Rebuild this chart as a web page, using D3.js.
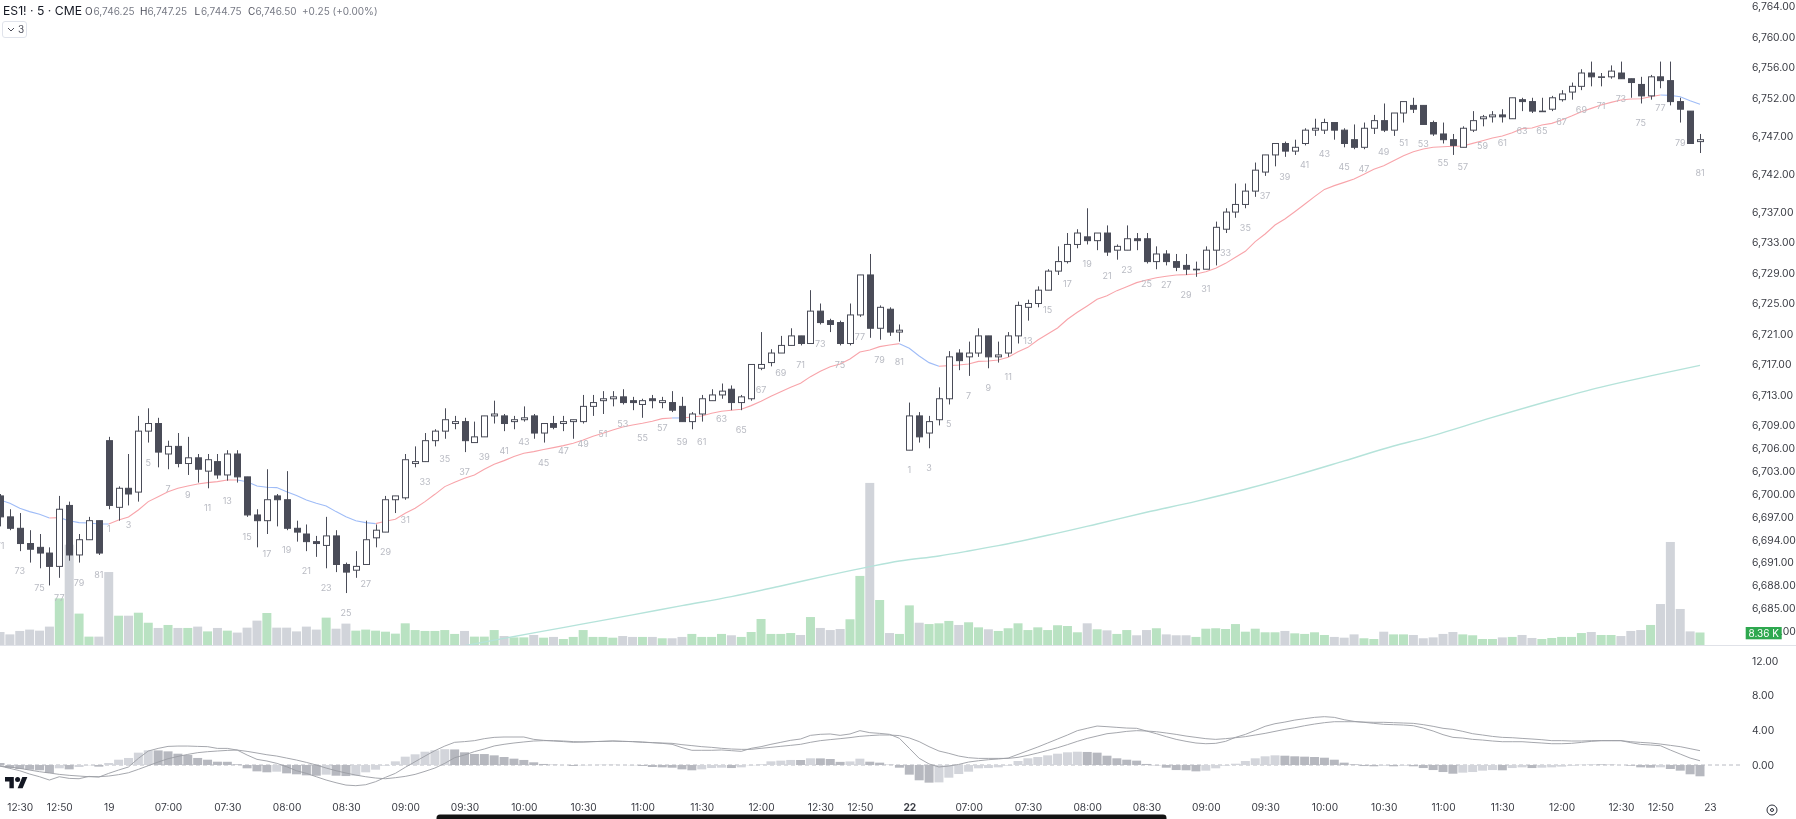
<!DOCTYPE html>
<html>
<head>
<meta charset="utf-8">
<script src="https://cdn.jsdelivr.net/npm/d3@7"></script>
<style>
html,body{margin:0;padding:0;background:#fff;overflow:hidden}
svg{display:block;font-family:Inter,"Liberation Sans",sans-serif;filter:blur(.35px)}
</style>
</head>
<body>
<svg id="chart" width="1796" height="819"></svg>
<script>
const opens=[
6699.75,6697,6695.5,6693.5,6693,6692.25,6690.5,6698.5,6692,6694,
6696.5,6707,6698.25,6700.75,6700.25,6708.25,6709.25,6705.25,6706.25,6704,
6704.75,6703,6704.25,6702.5,6705.25,6702.25,6697.25,6696.5,6699.75,6699.25,
6695.5,6694.75,6693.75,6693.25,6694.5,6690.75,6690,6690.75,6694.25,6695,
6699.25,6699.5,6704,6704.25,6707,6708.25,6709.25,6709.5,6706.75,6707.5,
6710.25,6710.25,6709.5,6709.75,6710.25,6708,6709.25,6709.25,6709.5,6709.5,
6711.5,6712.25,6712.5,6712.75,6712.25,6711.75,6712.5,6712,6712,6711.5,
6709.5,6710.5,6712.25,6713,6713.75,6712,6712.5,6716.5,6717.25,6718.5,
6719.5,6720.75,6719.75,6724,6722.75,6722.5,6719.75,6723.5,6728.75,6721.75,
6724.25,6721.25,6705.75,6710.25,6708,6709.75,6712.5,6718.5,6718,6718.5,
6720.75,6718,6718.5,6720.75,6724.5,6725,6726.75,6729.25,6730.5,6732.75,
6733.75,6733.25,6734.25,6732,6732,6733.5,6733.5,6730.5,6731.5,6730.5,
6730,6729.5,6729.5,6732,6734.75,6737,6738,6739.75,6742.25,6744.5,
6746,6745,6746,6747.75,6747.75,6748.75,6747.75,6746.5,6745.5,6748,
6749,6747.75,6750,6751,6751,6748.75,6747.25,6746.5,6745.5,6747.75,
6749.25,6749.5,6749.75,6749.25,6751.75,6751.5,6750.25,6750.5,6751.75,6752.75,
6753.5,6755.25,6754.75,6754.75,6755.25,6754.5,6753.75,6752.25,6754.75,6754.25,
6751.5,6750.25,6746.25];
const highs=[
6700,6698,6697.5,6695.25,6694.75,6693,6699.75,6699,6694.75,6697,
6696.5,6707.5,6701,6705.25,6710.25,6711.25,6710,6707,6708,6707.5,
6705.25,6705.25,6705.25,6705.75,6705.75,6702.25,6698,6703.25,6700,6703,
6696.5,6696,6694.5,6697,6695.25,6691,6692.5,6696.5,6696,6699.75,
6699.75,6705.25,6706.25,6708,6708.5,6711.25,6710.25,6710,6709.5,6710.25,
6712.25,6710.5,6710.25,6711.5,6710.5,6709.25,6710.25,6710.25,6709.75,6713,
6713,6713.5,6713.5,6713.75,6712.75,6712.5,6713,6712.75,6713.5,6712.75,
6710.75,6713,6713.75,6714.5,6714.25,6713,6717,6721.25,6719,6720.75,
6721.75,6720.75,6726.75,6725,6723,6722.75,6725,6728.75,6731.5,6724.75,
6724.5,6722.25,6712,6710.75,6710.25,6714,6718.75,6719,6720,6721.75,
6720.75,6720,6721.25,6725.25,6725.5,6727.25,6729.5,6732.5,6734.25,6734.75,
6737.5,6734.25,6735.25,6732.75,6735.25,6734.25,6734.25,6732.5,6732,6731.5,
6731.5,6730.5,6732.5,6735.75,6737.5,6740.75,6740.75,6743.5,6744.5,6746,
6746.25,6746.5,6748,6749.25,6749.25,6748.75,6748,6748.5,6748.75,6749.75,
6751.25,6750,6751.5,6752,6751,6749,6748.75,6747.25,6748.25,6750.25,
6749.75,6750.25,6750.5,6752,6752,6752,6752,6752.25,6753,6754,
6755.75,6756.75,6755.25,6756.25,6756.75,6754.5,6754.75,6755,6756.75,6756.75,
6752,6750.25,6747.25];
const lows=[
6695.75,6695.25,6692.5,6691,6690.25,6688,6689,6691.25,6691,6694,
6692,6698,6696.5,6698.5,6699,6706.75,6703.5,6703.25,6703.5,6702.5,
6701.5,6700.75,6702,6701.75,6701.5,6697,6693,6694.75,6695.75,6695.25,
6693.75,6692.5,6691.75,6690.25,6689.75,6687,6689,6690.75,6693,6695,
6697.5,6699.25,6703.5,6704.25,6706.25,6707.25,6708.5,6705.5,6706.75,6707.5,
6709.25,6708.25,6708.5,6709.5,6707.25,6706.75,6708.5,6708.25,6707.25,6709.25,
6710.25,6710.5,6711.5,6711.75,6711,6710,6711.25,6711.25,6710.75,6709.5,
6708.5,6709.5,6712.25,6712.5,6711,6711,6712.25,6716.25,6716.75,6718.5,
6719.5,6719.5,6719.75,6722.25,6721.25,6719.5,6719.5,6723.25,6720.5,6720.25,
6720.75,6720,6705.75,6706.75,6706,6709,6711.75,6716.25,6715.5,6718,
6716.5,6717.25,6718,6719.75,6722.75,6724.5,6726.75,6728.75,6730.25,6732.25,
6732.75,6732,6731.25,6730.75,6732,6732,6730.25,6729.5,6730,6729.25,
6728.75,6728.5,6729.5,6730,6734.25,6736.25,6737.5,6739,6741.75,6743,
6744.25,6744.5,6745.75,6747,6747.25,6746.5,6745.5,6745.25,6745.25,6747.25,
6747.5,6747,6748.75,6750,6748.5,6747,6746,6744.5,6745.5,6747.5,
6748.25,6748.75,6748.75,6749.25,6750.25,6750,6750.25,6750.25,6751.5,6751.75,
6753,6753.5,6753.5,6754.5,6754.5,6752,6751.25,6751.75,6753.25,6751,
6748.75,6746,6744.75];
const closes=[
6697,6695.5,6693.5,6692.75,6692.25,6690.5,6698,6692,6694,6696.5,
6692.25,6698.5,6700.75,6700,6708.25,6709.25,6705.5,6706.25,6704,6704.75,
6703.25,6704.5,6702.5,6705.25,6702.25,6697.25,6696.5,6699.25,6699.25,6695.5,
6695,6693.75,6693.5,6694.5,6690.75,6689.75,6690.5,6694,6695.25,6699.25,
6699.75,6704.5,6704.25,6707,6708.25,6709.75,6709.5,6707,6707.5,6710.25,
6710.5,6709.25,6709.75,6710,6708,6709.25,6708.75,6709.5,6709.75,6711.5,
6712,6712.5,6712.75,6712,6712,6712.25,6712.25,6712.25,6711,6709.5,
6710.5,6712.5,6713,6713.5,6712,6712.75,6717,6717,6718.5,6719.5,
6720.75,6719.75,6724,6722.5,6722.25,6719.75,6723.5,6728.75,6721.75,6724.5,
6721.25,6721.5,6710.25,6707.5,6709.5,6712.5,6718,6717.5,6718.5,6720.75,
6718,6718.25,6720.75,6724.75,6725,6726.75,6729.25,6730.5,6732.75,6734.25,
6733.25,6734.25,6731.75,6732.5,6733.5,6733.25,6730.5,6731.5,6730.5,6729.75,
6729.5,6729.5,6732,6735,6737,6738,6739.75,6742.5,6744.5,6746,
6745,6745.5,6747.75,6748,6748.75,6747.75,6746,6745.5,6748,6749,
6747.75,6750,6751.5,6750.5,6748.5,6747.25,6746.5,6745.75,6748,6749,
6749.5,6749.75,6749.5,6752,6751.5,6750.25,6750.25,6752,6752.5,6753.5,
6755.25,6754.75,6754.75,6755.5,6754.5,6754,6752.25,6754.75,6754.25,6751.5,
6750.5,6746,6746.5];
const volumesK=[
8.7,7.1,9.4,10.3,9.6,12.3,31.2,67.1,21,5.6,
5.6,48.8,19.6,19.6,21.6,14.9,11.4,13.4,11.4,11.4,
12.3,9.1,11.4,9.6,8.3,11.6,16.3,21.4,11.6,11.6,
9.1,12.3,10.3,18.3,10.9,14.3,9.6,10.3,9.6,8.9,
7.6,14.5,10,9.4,9.4,10,7.4,9.4,5.6,5.6,
10,6,5.1,5.1,6.7,4.9,5.4,4,5.4,10,
5.4,5.4,4.9,6,5.4,5.4,5.4,4.5,4.5,5.4,
7.4,5.4,5.4,7.4,6.5,5.4,8.7,17.4,7.4,7.4,
8,6.7,18.7,11.4,10,10.7,17.2,46.2,108.4,30.1,
8,7.4,26.5,14.9,14,14.5,16.1,13.4,15.2,11.8,
10.5,9.4,11.2,14.5,10,11.8,10,13.2,12.7,8.5,
14.5,10.5,9.8,7.4,10,6.5,10,11.2,7.1,6.5,
6.5,5.4,10.9,11.2,10.7,14,8.9,10.9,8.5,8.5,
9.4,7.8,7.4,8.5,6.7,5.4,4.9,7.1,4.5,4,
8.9,7.1,7.1,6.7,4.5,5.1,7.4,8.7,7.1,6.5,
4,4,5.1,5.4,6.7,4.7,4,4.7,5.4,5.4,
8,8.7,6.7,6.7,6,9.4,10,13.4,27.4,68.9,
24.1,9.1,8.36];
const ema20=[
6699.22,6698.78,6698.12,6697.69,6697.34,6696.85,6696.9,6696.5,6696.24,6696.2,
6696.07,6696.07,6696.59,6696.99,6697.9,6699,6699.65,6700.31,6700.75,6701.05,
6701.32,6701.49,6701.62,6701.84,6701.84,6701.62,6701.05,6700.88,6700.84,6700.31,
6699.79,6699.22,6698.78,6698.43,6697.69,6697.03,6696.5,6696.24,6696.11,6696.42,
6696.68,6697.47,6698.13,6699,6699.96,6700.97,6701.54,6702.06,6702.5,6703.24,
6703.9,6704.38,6704.91,6705.34,6705.56,6705.83,6706.09,6706.35,6706.66,6707.09,
6707.58,6707.97,6708.41,6708.8,6709.06,6709.28,6709.54,6709.89,6709.98,6709.98,
6710.11,6710.24,6710.59,6710.86,6710.99,6711.12,6711.6,6712.17,6712.82,6713.43,
6714,6714.53,6715.4,6716.1,6716.71,6717.06,6717.72,6718.64,6718.9,6719.34,
6719.56,6719.73,6719.12,6718.11,6717.24,6716.76,6716.85,6716.93,6717.06,6717.41,
6717.46,6717.59,6717.94,6718.68,6719.25,6720.21,6721,6721.79,6722.93,6723.85,
6724.68,6725.55,6726.03,6726.69,6727.21,6727.74,6728.09,6728.39,6728.57,6728.74,
6728.79,6728.87,6729.18,6729.62,6730.27,6731.06,6731.85,6733.12,6734.12,6735.3,
6736.09,6737.05,6738.02,6739.02,6739.98,6740.47,6740.9,6741.34,6741.95,6742.61,
6743.09,6743.75,6744.4,6744.93,6745.28,6745.5,6745.58,6745.63,6745.67,6746.02,
6746.37,6746.72,6746.98,6747.42,6747.95,6748.03,6748.43,6748.64,6749.08,6749.61,
6750.18,6750.61,6751.05,6751.4,6751.71,6751.84,6751.88,6752.14,6752.36,6752.32,
6752.14,6751.62,6751.14];
const emaBelowRanges=[[0,5],[6,11],[24,38],[68,69],[91,95],[168,172]];
const emaAboveRanges=[[5,6],[11,24],[38,68],[69,91],[95,168]];
const ema200Bars=[47,54,59,64,69,74,79,84,88,91,95,98,101,106,111,116,121,126,131,136,141,144,151,157,162,167,172];
const ema200=[6680.1,6681.77,6682.95,6684.13,6685.35,6686.53,6687.93,6689.38,6690.47,6691.2,6691.87,6692.52,6693.22,6694.58,6696.07,6697.6,6699.04,6700.62,6702.41,6704.34,6706.3,6707.3,6710.05,6712.3,6714.03,6715.5,6716.88];
const macdLine=[
-.12,-.39,-.66,-1.04,-1.35,-1.73,-1.35,-1.54,-1.58,-1.31,
-1.39,-.96,-.58,-.23,.76,1.61,1.91,2.14,2.18,2.18,
2.14,2.11,1.91,1.91,1.72,1.15,.65,.46,.19,-.2,
-.66,-.96,-1.35,-1.73,-2.04,-2.31,-2.38,-2.27,-1.92,-1.42,
-.96,-.27,.38,1.03,1.65,2.18,2.61,2.69,2.8,3.03,
3.18,3.22,3.22,3.22,2.95,2.84,2.76,2.69,2.61,2.65,
2.69,2.72,2.76,2.72,2.69,2.65,2.57,2.49,2.38,2,
1.69,1.69,1.69,1.73,1.65,1.57,1.92,2.11,2.38,2.61,
2.84,2.99,3.41,3.53,3.57,3.41,3.57,3.95,3.72,3.64,
3.53,3.07,1.92,.77,.12,-.23,-.12,.07,.34,.49,
.61,.69,.8,1.22,1.65,2.07,2.53,2.99,3.45,3.95,
4.22,4.48,4.41,4.33,4.25,4.22,3.91,3.6,3.26,2.95,
2.72,2.53,2.45,2.49,2.72,3.18,3.52,3.98,4.45,4.75,
4.94,5.17,5.33,5.48,5.56,5.48,5.21,5.02,4.91,4.79,
4.68,4.64,4.6,4.52,4.25,3.91,3.49,3.18,3.1,2.95,
2.87,2.76,2.68,2.68,2.68,2.6,2.53,2.45,2.45,2.49,
2.6,2.72,2.8,2.8,2.8,2.57,2.37,2.3,2.22,1.72,
1.26,.8,.49];
const signalLine=[
-.12,-.23,-.39,-.58,-.77,-.92,-1.08,-1.19,-1.27,-1.35,
-1.35,-1.27,-1.11,-.89,-.5,-.08,.34,.72,.99,1.22,
1.42,1.53,1.61,1.68,1.72,1.57,1.38,1.18,1.03,.8,
.57,.3,0,-.35,-.66,-.92,-1.16,-1.35,-1.5,-1.58,
-1.46,-1.31,-1.08,-.73,-.35,.19,.84,1.15,1.54,1.84,
2.19,2.38,2.53,2.65,2.76,2.8,2.8,2.76,2.69,2.65,
2.69,2.72,2.76,2.72,2.69,2.61,2.57,2.53,2.49,2.34,
2.23,2.11,2.03,1.92,1.84,1.8,1.8,1.92,2.03,2.15,
2.26,2.38,2.61,2.8,2.92,3.03,3.15,3.3,3.38,3.45,
3.45,3.38,3.11,2.69,2.11,1.61,1.34,1.03,.84,.76,
.76,.76,.76,.88,1.11,1.38,1.68,1.99,2.34,2.72,
3.06,3.33,3.6,3.72,3.87,3.95,3.91,3.83,3.68,3.52,
3.33,3.18,3.03,2.95,3.03,3.14,3.26,3.45,3.64,3.87,
4.1,4.29,4.52,4.71,4.87,4.98,4.98,4.98,4.94,4.91,
4.91,4.87,4.83,4.79,4.64,4.45,4.22,4.1,3.87,3.6,
3.45,3.29,3.18,3.14,3.06,2.99,2.91,2.8,2.8,2.76,
2.76,2.8,2.8,2.8,2.8,2.68,2.6,2.53,2.41,2.26,
2.11,1.88,1.65];
const macdHist=[
.23,-.35,-.46,-.54,-.61,-.92,-.38,-.5,-.23,-.04,
-.19,.23,.61,.81,1.42,1.69,1.68,1.57,1.3,1.15,
.81,.61,.38,.37,.08,-.38,-.73,-.84,-.77,-.96,
-1.07,-1.19,-1.23,-1.11,-1.23,-1.27,-1.23,-.84,-.54,-.08,
.42,.96,1.23,1.53,1.69,1.82,1.79,1.46,1.27,1.26,
1.11,.92,.73,.58,.31,.12,.04,0,-.11,-.04,
0,.04,.02,0,-.02,-.11,-.23,-.27,-.31,-.5,
-.61,-.5,-.35,-.31,-.35,-.27,-.04,.08,.42,.5,
.58,.575,.77,.76,.69,.36,.41,.73,.38,.27,
.04,-.31,-1.11,-1.76,-2.03,-2,-1.46,-1.04,-.77,-.38,
-.35,-.27,-.08,.46,.77,.92,1.11,1.3,1.46,1.53,
1.5,1.42,1.07,.77,.61,.5,.12,-.04,-.31,-.58,
-.61,-.73,-.65,-.38,-.08,.15,.46,.77,1,1.11,
1.07,1,.96,.92,.84,.61,.27,.08,-.12,-.15,
-.08,-.15,-.08,-.15,-.35,-.58,-.81,-1,-.88,-.81,
-.65,-.58,-.61,-.35,-.27,-.35,-.31,-.27,-.19,-.08,
.04,.08,.07,.04,0,-.08,-.27,-.31,-.27,-.46,
-.65,-1.07,-1.3];
const priceTicks=[6764,6760,6756,6752,6747,6742,6737,6733,6729,6725,6721,6717,6713,6709,6706,6703,6700,6697,6694,6691,6688,6685,6682];
const macdTicks=[12,8,4,0];
const timeTickBars=[2,6,11,17,23,29,35,41,47,53,59,65,71,77,83,87,92,98,104,110,116,122,128,134,140,146,152,158,164,168,173];
const timeTickLabels=["12:30","12:50","19","07:00","07:30","08:00","08:30","09:00","09:30","10:00","10:30","11:00","11:30","12:00","12:30","12:50","22","07:00","07:30","08:00","08:30","09:00","09:30","10:00","10:30","11:00","11:30","12:00","12:30","12:50","23"];
const sessionStarts=[[-71,0],[11,1],[92,1]];
const titleText="ES1! · 5 · CME";
const ohlc=[["O","6,746.25"],["H","6,747.25"],["L","6,744.75"],["C","6,746.50"]];
const changeText="+0.25 (+0.00%)";
const lastVolumeLabel="8.36 K";

[opens,highs,lows,closes,volumesK,ema20,macdLine,signalLine,macdHist].forEach((a,k)=>{
  if(a.length!==173) throw new Error("array "+k+" has "+a.length);
});

const W=1796,H=819,paneRight=1745,paneBottom=645;
const x=d3.scaleLinear().domain([0,172]).range([0,1700]);
const y=d3.scaleLinear().domain([6756,6685]).range([67.3,608.3]);
const yVol=d3.scaleLinear().domain([0,8.36]).range([645,632.5]);
const yMacd=d3.scaleLinear().domain([0,12]).range([765,660.7]);
const bars=d3.range(opens.length);
const svg=d3.select("#chart");

const C={dark:"#4a4c58",up:"#b9e2c2",down:"#d1d4da",pink:"#f8a4aa",blue:"#9fbcf7",teal:"#b5e3da",
 text:"#3a3c44",count:"#b9bbc3",histDark:"#b6b8bf",histLight:"#d3d5db",line:"#9b9da4"};

svg.append("defs").append("clipPath").attr("id","mainClip").append("rect")
  .attr("x",0).attr("y",0).attr("width",paneRight).attr("height",paneBottom);
svg.select("defs").append("clipPath").attr("id","macdClip").append("rect")
  .attr("x",0).attr("y",paneBottom).attr("width",paneRight).attr("height",170);

const main=svg.append("g").attr("clip-path","url(#mainClip)");
main.append("g").selectAll("rect").data(bars).join("rect")
  .attr("x",i=>x(i)-4.5).attr("width",9)
  .attr("y",i=>yVol(volumesK[i])).attr("height",i=>yVol(0)-yVol(volumesK[i]))
  .attr("fill",i=>closes[i]>=opens[i]?C.up:C.down);

const tealLine=d3.line().x(d=>x(d[0])).y(d=>y(d[1])).curve(d3.curveMonotoneX);
main.append("path").attr("d",tealLine(ema200Bars.map((b,k)=>[b,ema200[k]])))
  .attr("fill","none").attr("stroke",C.teal).attr("stroke-width",1.4);

const emaLine=d3.line().x(i=>x(i)).y(i=>y(ema20[i]));
emaAboveRanges.forEach(r=>{
  main.append("path").attr("d",emaLine(d3.range(r[0],r[1]+1))).attr("fill","none").attr("stroke",C.pink).attr("stroke-width",1.1);
});
emaBelowRanges.forEach(r=>{
  main.append("path").attr("d",emaLine(d3.range(r[0],r[1]+1))).attr("fill","none").attr("stroke",C.blue).attr("stroke-width",1.1);
});

const cand=main.append("g");
cand.selectAll("line").data(bars).join("line")
  .attr("x1",i=>Math.round(x(i))+.5).attr("x2",i=>Math.round(x(i))+.5)
  .attr("y1",i=>y(highs[i])).attr("y2",i=>y(lows[i]))
  .attr("stroke",C.dark).attr("stroke-width",1);
cand.selectAll("rect").data(bars).join("rect")
  .attr("x",i=>Math.round(x(i))-2.5).attr("width",6)
  .attr("y",i=>y(Math.max(opens[i],closes[i])))
  .attr("height",i=>Math.max(.6,Math.abs(y(opens[i])-y(closes[i]))))
  .attr("fill",i=>closes[i]>=opens[i]?"#fff":C.dark)
  .attr("stroke",C.dark).attr("stroke-width",1);

function barNumber(i){
  const s=sessionStarts.filter(d=>d[0]<=i).pop();
  return i-s[0]+s[1];
}
main.append("g").selectAll("text").data(bars.filter(i=>barNumber(i)%2===1)).join("text")
  .attr("x",i=>x(i)).attr("y",i=>y(lows[i])+19.5)
  .attr("text-anchor","middle").attr("dominant-baseline","central")
  .attr("font-size",9).attr("fill",C.count).text(i=>barNumber(i));

// pane separator
svg.append("line").attr("x1",0).attr("x2",W).attr("y1",645.5).attr("y2",645.5).attr("stroke","#e0e2e8");

// MACD pane
const mp=svg.append("g").attr("clip-path","url(#macdClip)");
mp.append("line").attr("x1",0).attr("x2",1740).attr("y1",yMacd(0)).attr("y2",yMacd(0))
  .attr("stroke","#b8bac2").attr("stroke-dasharray","4 3");
mp.append("g").selectAll("rect").data(bars).join("rect")
  .attr("x",i=>x(i)-4.5).attr("width",9)
  .attr("y",i=>Math.min(yMacd(0),yMacd(macdHist[i])))
  .attr("height",i=>Math.abs(yMacd(macdHist[i])-yMacd(0)))
  .attr("fill",i=>(i>0&&macdHist[i]>macdHist[i-1])?C.histLight:C.histDark);
const macdPath=a=>d3.line().x(i=>x(i)).y(i=>yMacd(a[i]))(bars);
[macdLine,signalLine].forEach(a=>{
  mp.append("path").attr("d",macdPath(a)).attr("fill","none").attr("stroke",C.line).attr("stroke-width",.9);
});

// axes
const stripAxis=g=>{g.select(".domain").remove();g.selectAll("line").remove();};
const priceAxis=d3.axisRight(y).tickValues(priceTicks).tickFormat(d=>d3.format(",.2f")(d)).tickSize(0).tickPadding(0);
svg.append("g").attr("transform","translate(1752,0)").call(priceAxis).call(stripAxis)
  .selectAll("text").attr("font-size",10.4).attr("fill",C.text).attr("font-family","Inter");
const macdAxis=d3.axisRight(yMacd).tickValues(macdTicks).tickFormat(d3.format(".2f")).tickSize(0).tickPadding(0);
svg.append("g").attr("transform","translate(1752,0)").call(macdAxis).call(stripAxis)
  .selectAll("text").attr("font-size",10.4).attr("fill",C.text).attr("font-family","Inter");
const timeAxis=d3.axisBottom(x).tickValues(timeTickBars).tickFormat(b=>timeTickLabels[timeTickBars.indexOf(b)]).tickSize(0).tickPadding(0);
const tg=svg.append("g").attr("transform","translate(0,804)").call(timeAxis).call(stripAxis);
tg.selectAll("text").attr("font-size",10.2).attr("fill",C.text).attr("font-family","Inter")
  .attr("font-weight",b=>timeTickLabels[timeTickBars.indexOf(b)]==="22"?700:400);

// volume tag
svg.append("rect").attr("x",1745.7).attr("y",627).attr("width",36).attr("height",12.3).attr("fill","#2ea84f");
svg.append("text").attr("x",1763.7).attr("y",633.3).attr("text-anchor","middle").attr("dominant-baseline","central")
  .attr("font-size",10).attr("fill","#fff").text(lastVolumeLabel);

// header
const head=svg.append("g");
head.append("text").attr("x",3).attr("y",15).attr("font-size",12.2).attr("fill","#131722").text(titleText);
const hx=[85,140,194.5,248], vx=[93.5,147.5,201,255.5];
ohlc.forEach((d,k)=>{
  head.append("text").attr("x",hx[k]).attr("y",14.5).attr("font-size",10).attr("fill","#4a4c58").text(d[0]);
  head.append("text").attr("x",vx[k]).attr("y",14.5).attr("font-size",10).attr("fill","#787b86").text(d[1]);
});
head.append("text").attr("x",302).attr("y",14.5).attr("font-size",10).attr("fill","#787b86").text(changeText);
head.append("rect").attr("x",2.5).attr("y",21.5).attr("width",24).attr("height",16).attr("rx",2.5).attr("fill","#fff").attr("stroke","#e0e3eb");
head.append("path").attr("d","M8 28l3 3 3-3").attr("fill","none").attr("stroke","#4a4c58").attr("stroke-width",1);
head.append("text").attr("x",18).attr("y",33).attr("font-size",10).attr("fill","#4a4c58").text("3");

// logo
svg.append("g").attr("transform","translate(5,774.5) scale(.63)").call(g=>{
  g.append("path").attr("d","M14 22H7V11H0V4h14v18zM28 22h-8l7.5-18h8L28 22z").attr("fill","#131722");
  g.append("circle").attr("cx",20).attr("cy",8).attr("r",4).attr("fill","#131722");
});

// bottom bar
svg.append("path").attr("d","M436.5 819v-1a3.5 3.5 0 0 1 3.5-3.5h723a3.5 3.5 0 0 1 3.5 3.5v1z").attr("fill","#131313");

// settings
svg.append("circle").attr("cx",1772).attr("cy",810).attr("r",5).attr("fill","none").attr("stroke","#2a2e39").attr("stroke-width",1);
svg.append("circle").attr("cx",1772).attr("cy",810).attr("r",1.5).attr("fill","none").attr("stroke","#2a2e39").attr("stroke-width",1);
</script>
</body>
</html>
